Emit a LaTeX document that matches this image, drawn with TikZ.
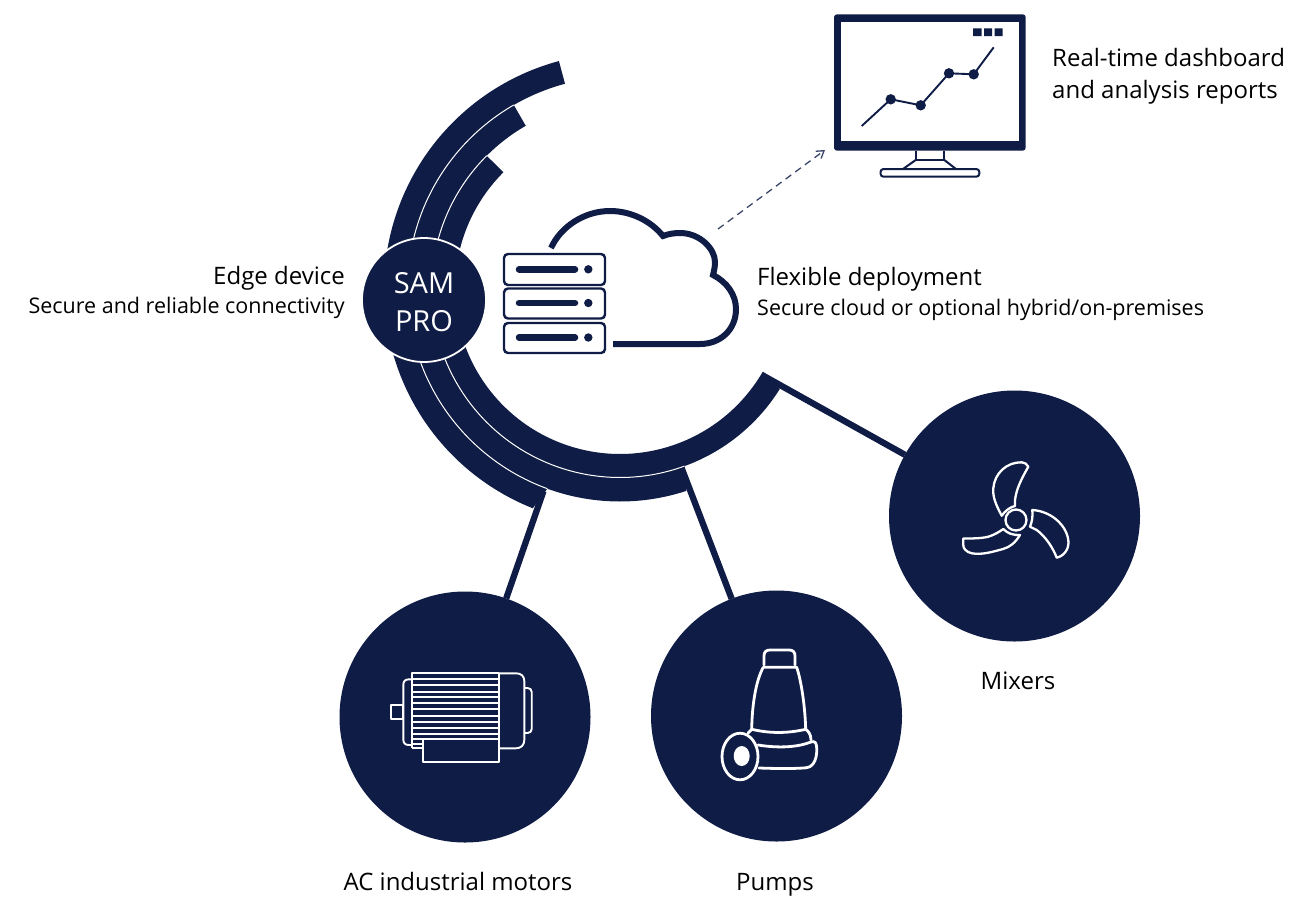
\documentclass[tikz,border=0pt]{standalone}
\usepackage{fontspec}
\setmainfont{Open Sans}
\usetikzlibrary{arrows.meta}
\definecolor{navy}{HTML}{0F1C45}
\definecolor{dashnavy}{HTML}{3C4669}
\newcommand{\bandshape}[5]{%
  \fill[navy] plot[domain=#3:#4,samples=120] ({620+#1*cos(\x)},{289-#1*sin(\x)})
   -- plot[domain=#5:#3,samples=120] ({620+#2*cos(\x)},{289-#2*sin(\x)}) -- cycle;}
\newcommand{\bandline}[3]{%
  \draw[white,line width=1pt] plot[domain=#2:#3,samples=120] ({620+#1*cos(\x)},{289-#1*sin(\x)});}
\tikzset{
  hub/.style={circle,fill=navy,inner sep=0pt,outer sep=0pt,minimum size=251pt},
  samhub/.style={circle,fill=navy,draw=white,line width=1.8pt,inner sep=0pt,outer sep=0pt,minimum size=124pt},
  link/.style={draw=navy,line width=6.3pt},
  lab/.style={anchor=base,inner sep=0pt,text=black},
  big/.style={font=\fontsize{24}{28}\selectfont},
  small/.style={font=\fontsize{21.5}{26}\selectfont},
  icon/.style={draw=white,line width=1.9pt,line join=round},
  pumpicon/.style={draw=white,line width=2.8pt,line join=round,line cap=round},
  fanicon/.style={draw=white,line width=2.3pt,line join=round,line cap=round},
  rack/.style={draw=navy,line width=2.4pt,fill=white,rounded corners=4pt},
  rackbar/.style={draw=navy,line width=6.5pt,line cap=round},
  mon/.style={draw=navy,line width=2pt},
}
\begin{document}
\begin{tikzpicture}[x=1pt,y=-1pt]
\useasboundingbox (0,0) rectangle (1316,897);
% bands
\bandshape{212.5}{236}{105}{250}{248.3}
\bandshape{188.5}{212.5}{120}{290}{288.2}
\bandshape{165}{188.5}{135}{330}{328}
\bandline{212.5}{120}{250}
\bandline{188.5}{135}{290}
% hubs
\node[hub] (motors) at (465,717) {};
\node[hub] (pumps) at (776.5,716) {};
\node[hub] (mixers) at (1014.5,516) {};
\coordinate (bandA) at (543.5,491);
\coordinate (bandB) at (681.6,468);
\coordinate (bandC) at (762,375);
\draw[link] (bandA) -- (motors);
\draw[link] (bandB) -- (pumps);
\draw[link] (bandC) -- (mixers);
\node[samhub] (sam) at (424,300) {};
\node[lab,text=white,font=\fontsize{29}{36}\selectfont] (samA) at (424,293) {SAM};
\node[lab,text=white,font=\fontsize{29}{36}\selectfont] (samB) at (424,331) {PRO};
% labels
\node[lab,big,anchor=base east] (edgeA) at (345,284) {Edge device};
\node[lab,small,anchor=base east] (edgeB) at (345,313) {Secure and reliable connectivity};
\node[lab,big,anchor=base west] (flexA) at (757,285) {Flexible deployment};
\node[lab,small,anchor=base west] (flexB) at (757,315) {Secure cloud or optional hybrid/on-premises};
\node[lab,big,anchor=base west] (dashA) at (1052,66) {Real-time dashboard};
\node[lab,big,anchor=base west] (dashB) at (1052,98) {and analysis reports};
\node[lab,big] (lblM) at (458,890) {AC industrial motors};
\node[lab,big] (lblP) at (775,890) {Pumps};
\node[lab,big] (lblX) at (1018,689) {Mixers};
% server rack
\draw[rack] (504,254) rectangle (605,285);
\draw[rack] (504,288.5) rectangle (605,318.5);
\draw[rack] (504,323) rectangle (605,353);
\foreach \yy in {269.3,303,337.5}{
  \draw[rackbar] (519,\yy) -- (575,\yy);
  \fill[navy] (588.3,\yy) circle (4.2);
}
% cloud
\draw[navy,line width=6pt,line join=miter] (551,248)
  .. controls (561,226) and (585,211) .. (610,211)
  .. controls (631,211) and (651,221) .. (663,236)
  .. controls (668,234) and (674,233) .. (680,233)
  .. controls (700,233) and (715,249) .. (715,262)
  .. controls (715,267) and (714,271) .. (713,275)
  .. controls (727,282) and (736,295) .. (736,309)
  .. controls (736,330) and (720,344) .. (700,344)
  -- (613,344);
% dashed arrow
\coordinate (dashS) at (718,229);
\coordinate (dashE) at (825,150);
\draw[draw=dashnavy,line width=1.3pt,dash pattern=on 7pt off 5pt,-{Straight Barb[length=7pt,width=9pt]}] (dashS) -- (dashE);
% monitor
\fill[navy,rounded corners=3pt] (834,14.3) rectangle (1025.7,150.7);
\fill[white] (840.7,22.3) rectangle (1019,141);
\fill[navy] (973,28.3) rectangle (981.5,36) (984,28.3) rectangle (992,36) (994.5,28.3) rectangle (1002.5,36);
\draw[navy,line width=1.9pt] (861.7,126) -- (890.7,99.3) -- (920.7,105.3) -- (949,73.3) -- (973.7,74.3) -- (993.7,47.3);
\foreach \px/\py in {890.7/99.3,920.7/105.3,949/73.3,973.7/74.3}{\fill[navy] (\px,\py) circle (5.2);}
\draw[mon] (915.7,150.7) -- (915.7,160) -- (944.3,160) -- (944.3,150.7);
\draw[mon] (915.7,160) -- (903,169) (944.3,160) -- (956,169);
\draw[mon,rounded corners=3pt] (880.5,169) rectangle (979.3,176.7);
% motor icon
\draw[icon] (390.7,705) rectangle (403.3,719);
\draw[icon] (411.7,679.3) -- (409,679.3) .. controls (405,679.3) and (403.3,681.5) .. (403.3,685) -- (403.3,739.5) .. controls (403.3,743) and (405,745) .. (409,745) -- (411.7,745);
\draw[icon] (411.7,748) -- (411.7,673.3) -- (499.3,673.3) -- (499.3,739.3);
\foreach \yy in {679.3,685,691.7,697.3,703.3,709.3,715.7,721.7,727.7,734,739.3}{\draw[icon] (411.7,\yy) -- (499.3,\yy);}
\draw[icon] (411.7,744) -- (423.3,744) (411.7,748) -- (423.3,748);
\draw[icon] (499.3,673.3) -- (516,673.3) .. controls (521,673.3) and (524.3,676) .. (524.3,681) -- (524.3,740) .. controls (524.3,745) and (521,748.3) .. (516,748.3) -- (499.3,748.3);
\draw[icon] (524.3,688) -- (527.5,688) .. controls (530,688) and (531.7,689.5) .. (531.7,692) -- (531.7,729) .. controls (531.7,731.5) and (530,733) .. (527.5,733) -- (524.3,733);
\draw[icon] (423.3,739.3) rectangle (499.3,761.7);
% pump icon
\draw[pumpicon] (764,665) -- (764,656) .. controls (764,652) and (766,650) .. (770,650) -- (789,650) .. controls (793,650) and (795,652) .. (795,656) -- (795,665);
\draw[pumpicon] (751.7,729.3) .. controls (752,705) and (756,680) .. (763.3,667.3) -- (796.7,667.3) .. controls (801,680) and (805,705) .. (805.7,729.3);
\draw[pumpicon] (751.7,729.3) .. controls (770,733.5) and (787,733.5) .. (805.7,729.3);
\draw[pumpicon] (805.7,729.3) .. controls (808,731) and (811,734) .. (811,740);
\draw[pumpicon] (751.7,729.3) .. controls (750,730.5) and (749,731.5) .. (748,733);
\draw[pumpicon] (758,745) .. controls (780,748.5) and (798,747) .. (811,742) .. controls (815,740.5) and (816.5,743) .. (816.7,748) .. controls (817,754) and (816,760) .. (813,764) .. controls (811,766.5) and (809,767.5) .. (806,767.8) .. controls (790,769) and (775,768.5) .. (759,768);
\draw[pumpicon] (740,756.5) ellipse (18 and 23.3);
\fill[white] (741.7,756) ellipse (8 and 10);
% mixer icon
\draw[fanicon] (1016,520) circle (10.5);
\draw[fanicon] (1001.7,515.7) .. controls (996,505) and (992.5,497) .. (993.3,488.3)
  .. controls (994.5,473) and (1007,462) .. (1021.7,462.3) .. controls (1024.5,462.3) and (1027,464) .. (1028.3,466.7)
  .. controls (1022,478) and (1016.5,488) .. (1015,500) -- (1015,506)
  .. controls (1010,507) and (1005,511) .. (1001.7,515.7) -- cycle;
\draw[fanicon] (1032.3,510) .. controls (1050,511) and (1066,524) .. (1068.3,540)
  .. controls (1069.5,549) and (1064,556) .. (1056.7,557.7)
  .. controls (1053,548) and (1046,537) .. (1036.7,530) -- (1030,526.7)
  .. controls (1032,522) and (1033,516) .. (1032.3,510) -- cycle;
\draw[fanicon] (1020,535) .. controls (1015,543) and (1010,547) .. (1003,549)
  .. controls (992,552) and (982,555) .. (971.7,553.3)
  .. controls (966,552) and (963,548) .. (963.3,545) -- (963.3,538.5)
  .. controls (972,538.5) and (981,538.5) .. (988.3,536.7)
  .. controls (994,535) and (999,532) .. (1003.3,529)
  .. controls (1007,533) and (1013,535.5) .. (1020,535) -- cycle;
\end{tikzpicture}
\end{document}
